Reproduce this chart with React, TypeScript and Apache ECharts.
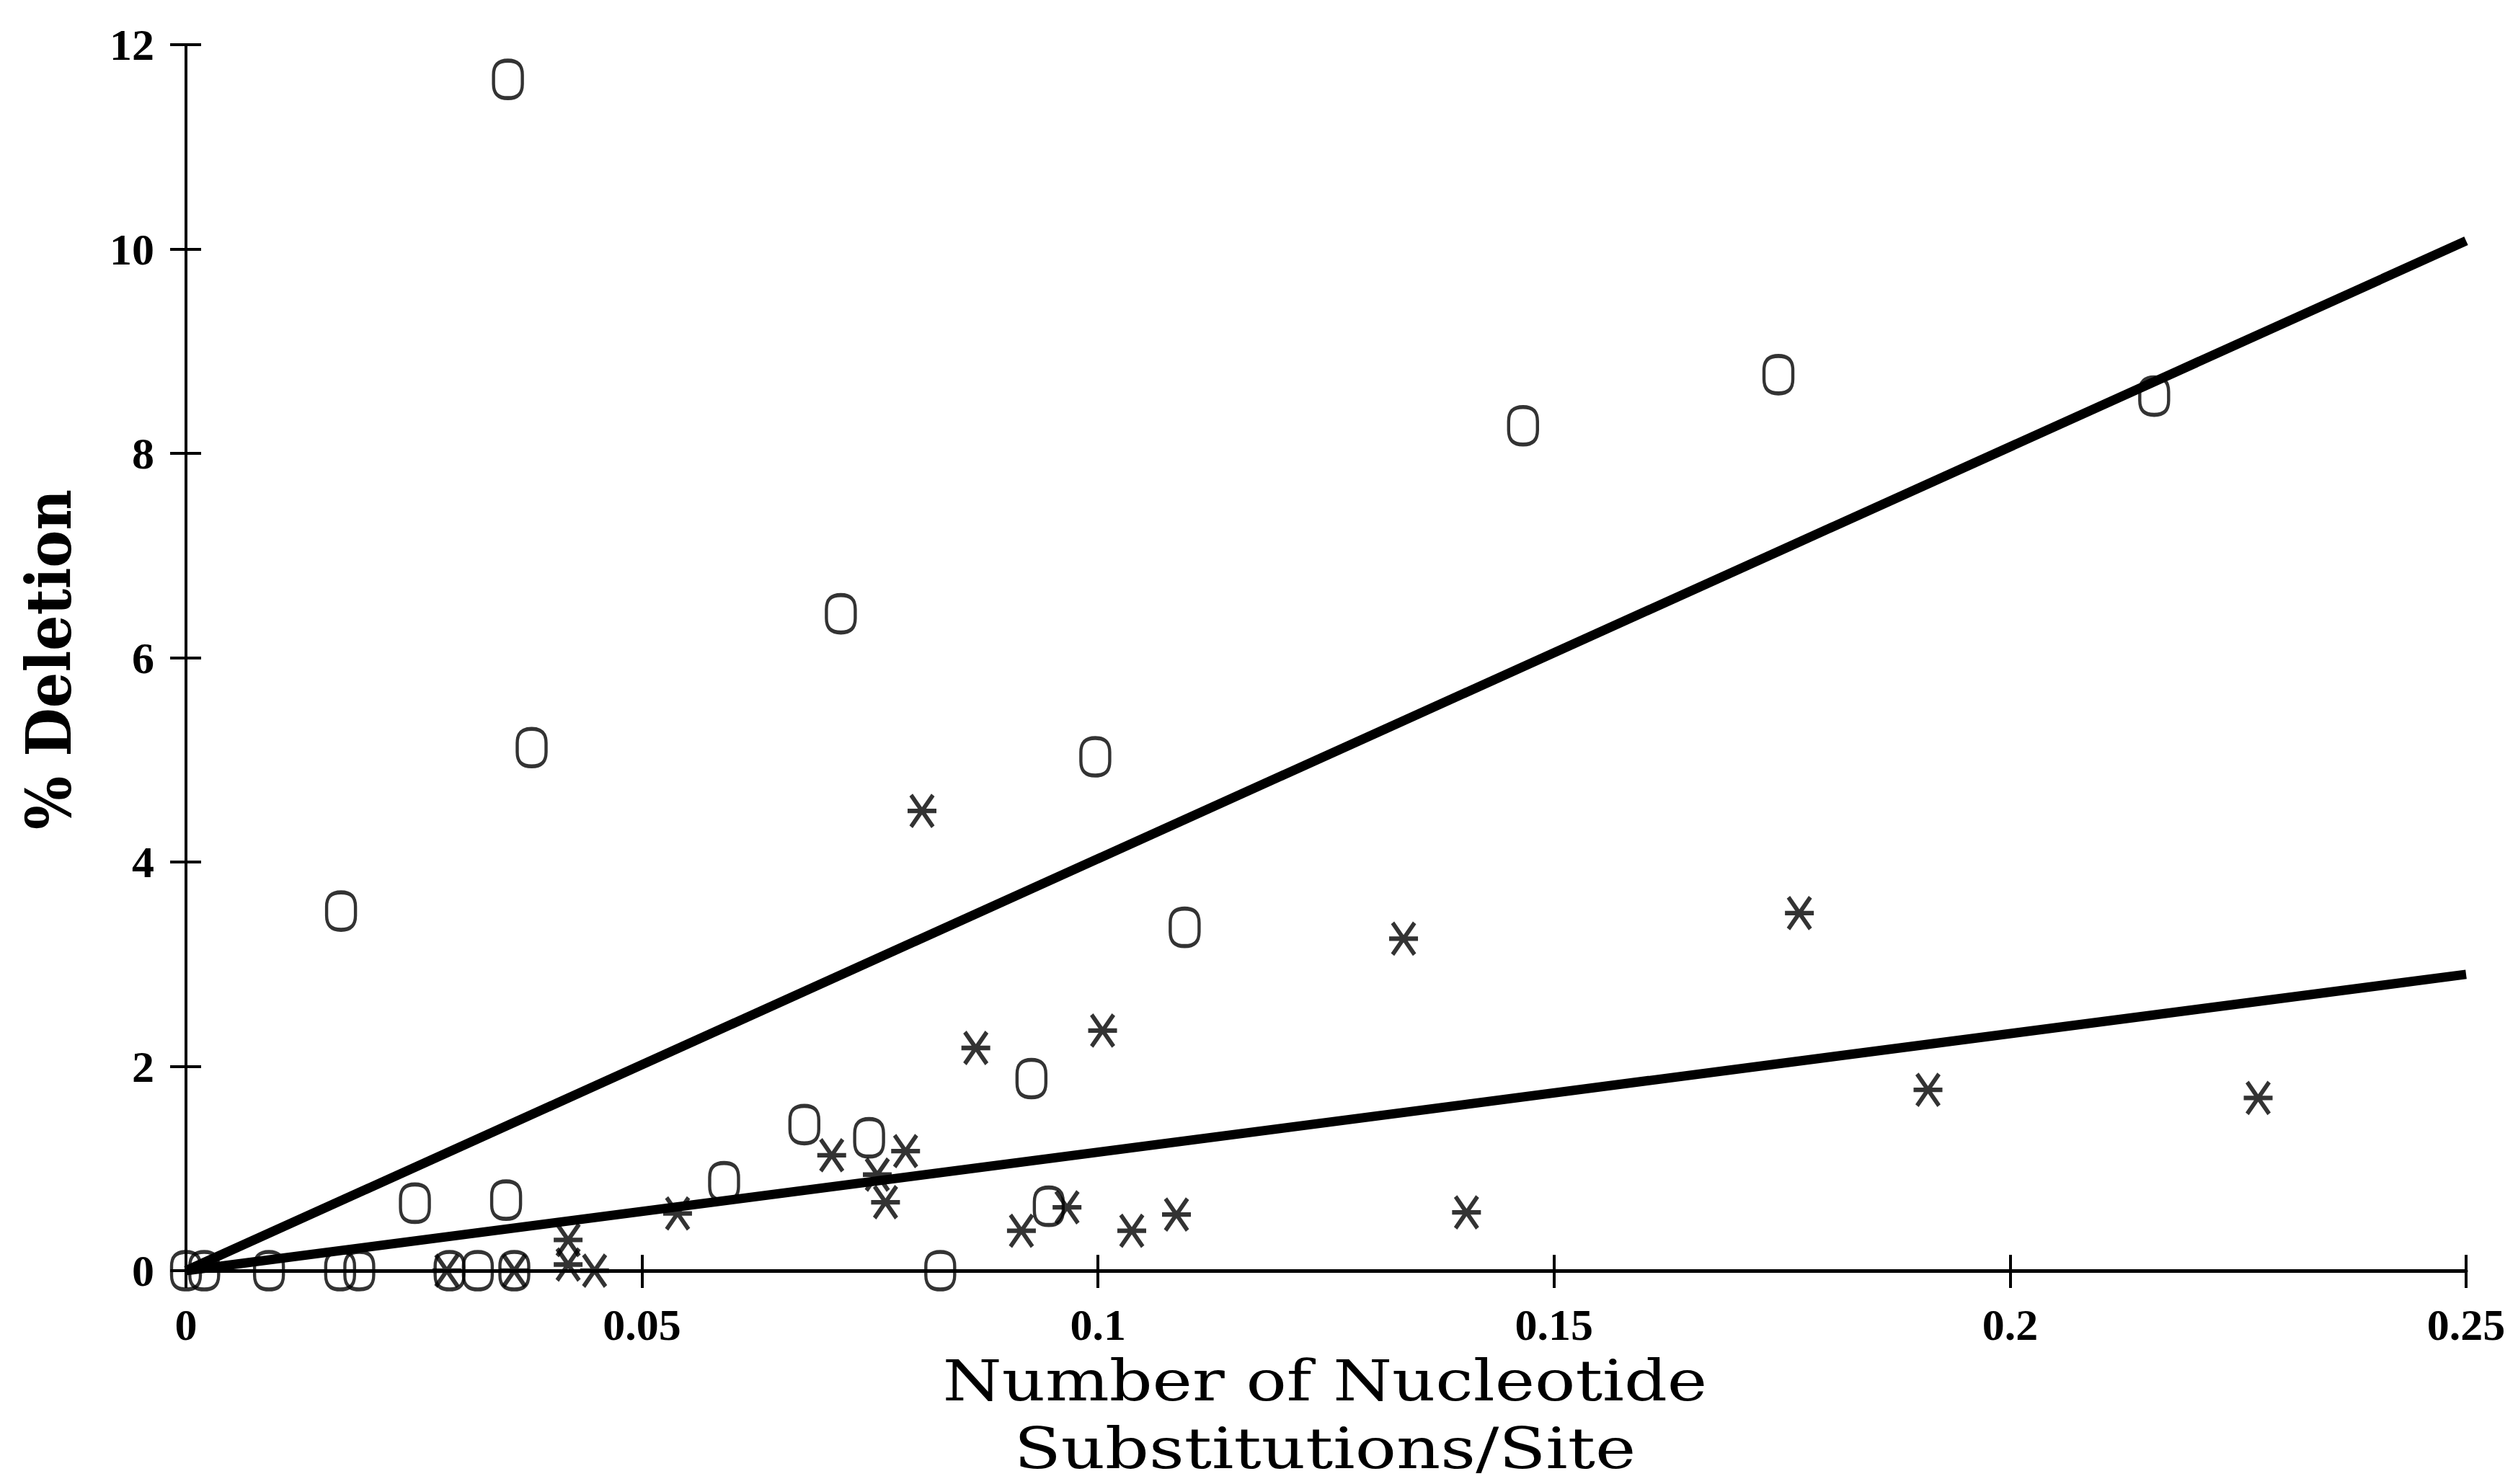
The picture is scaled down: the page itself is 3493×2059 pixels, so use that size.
import React, { useEffect, useRef } from "react";
import * as echarts from "echarts";

// "O" data points (x = substitutions/site, y = % deletion)
const oX = [0, 0.002, 0.0091, 0.0169, 0.019, 0.0289, 0.032, 0.036, 0.0251, 0.0351, 0.059, 0.0678, 0.0749, 0.0827, 0.0946, 0.0927, 0.017, 0.0353, 0.0379, 0.0718, 0.0997, 0.1095, 0.1466, 0.1746, 0.2158];
const oY = [0, 0, 0, 0, 0, 0, 0, 0, 0.66, 0.69, 0.87, 1.43, 1.3, 0, 0.63, 1.88, 3.52, 11.66, 5.12, 6.43, 5.03, 3.36, 8.27, 8.77, 8.56];

// "*" data points
const sX = [0.0286, 0.036, 0.0419, 0.0419, 0.0448, 0.0539, 0.0708, 0.0758, 0.0767, 0.0789, 0.0807, 0.0866, 0.0916, 0.0966, 0.1005, 0.1037, 0.1086, 0.1335, 0.1404, 0.1769, 0.191, 0.2272];
const sY = [0, 0, 0.3, 0.06, 0, 0.56, 1.13, 0.94, 0.67, 1.17, 4.5, 2.18, 0.39, 0.62, 2.35, 0.39, 0.55, 3.25, 0.57, 3.5, 1.77, 1.69];

// regression lines
const fitX = [0, 0.25];
const fitO = [0, 10.08];
const fitStar = [0, 2.9];

const xTicks = { min: 0, max: 0.25, interval: 0.05 };
const yTicks = { min: 0, max: 12, interval: 2 };

const xTitle1 = "Number of Nucleotide";
const xTitle2 = "Substitutions/Site";
const yTitle = "% Deletion";

const O_PATH =
  "path://M50,0 C85,0 100,12 100,38 L100,62 C100,88 85,100 50,100 C15,100 0,88 0,62 L0,38 C0,12 15,0 50,0 Z";
const STAR_PATH = "path://M0,50 L100,50 M12,0 L88,100 M88,0 L12,100";

export default function App() {
  const ref = useRef<HTMLDivElement>(null);
  useEffect(() => {
    if (!ref.current) return;
    const chart = echarts.init(ref.current, null, { renderer: "svg" });
    const labelFont = {
      fontFamily: "Liberation Serif",
      fontWeight: "bold" as const,
      fontSize: 62,
      color: "#000",
    };
    const tickStyle = { color: "#000", width: 4 };
    const xBase = {
      type: "value" as const,
      min: xTicks.min,
      max: xTicks.max,
      interval: xTicks.interval,
      position: "bottom" as const,
      splitLine: { show: false },
    };
    const yBase = {
      type: "value" as const,
      min: yTicks.min,
      max: yTicks.max,
      interval: yTicks.interval,
      position: "left" as const,
      splitLine: { show: false },
    };
    const titleStyle = {
      fontFamily: "DejaVu Serif",
      fontSize: 78,
      fill: "#000",
      align: "center" as const,
      verticalAlign: "middle" as const,
    };
    chart.setOption({
      animation: false,
      backgroundColor: "#fff",
      grid: { left: 258, right: 72, top: 62, bottom: 296 },
      xAxis: [
        {
          ...xBase,
          axisLine: { show: true, onZero: false, lineStyle: { color: "#000", width: 5 } },
          axisTick: { show: true, inside: false, length: 24, lineStyle: tickStyle },
          axisLabel: { ...labelFont, margin: 44 },
        },
        {
          ...xBase,
          axisLine: { show: false },
          axisTick: { show: true, inside: true, length: 22, lineStyle: tickStyle },
          axisLabel: { show: false },
        },
      ],
      yAxis: [
        {
          ...yBase,
          axisLine: { show: true, onZero: false, lineStyle: { color: "#000", width: 4 } },
          axisTick: { show: true, inside: false, length: 22, lineStyle: tickStyle },
          axisLabel: { ...labelFont, margin: 44 },
        },
        {
          ...yBase,
          axisLine: { show: false },
          axisTick: { show: true, inside: true, length: 21, lineStyle: tickStyle },
          axisLabel: { show: false },
        },
      ],
      series: [
        {
          type: "line",
          data: fitX.map((x, i) => [x, fitO[i]]),
          showSymbol: false,
          symbol: "none",
          lineStyle: { color: "#000", width: 13 },
          z: 3,
        },
        {
          type: "line",
          data: fitX.map((x, i) => [x, fitStar[i]]),
          showSymbol: false,
          symbol: "none",
          lineStyle: { color: "#000", width: 13 },
          z: 3,
        },
        {
          type: "scatter",
          name: "O",
          clip: false,
          data: oX.map((x, i) => [x, oY[i]]),
          symbol: O_PATH,
          symbolSize: [40, 52],
          itemStyle: { color: "rgba(0,0,0,0)", borderColor: "#000", borderWidth: 5 },
          z: 4,
        },
        {
          type: "scatter",
          name: "*",
          clip: false,
          data: sX.map((x, i) => [x, sY[i]]),
          symbol: STAR_PATH,
          symbolSize: [40, 44],
          itemStyle: { color: "rgba(0,0,0,0)", borderColor: "#000", borderWidth: 6 },
          z: 4,
        },
      ],
      graphic: [
        { type: "text", x: 1838, y: 1916, scaleX: 1.2, style: { ...titleStyle, text: xTitle1 } },
        { type: "text", x: 1838, y: 2010, scaleX: 1.22, style: { ...titleStyle, text: xTitle2 } },
        {
          type: "text",
          x: 68,
          y: 915,
          rotation: Math.PI / 2,
          scaleY: 1.1,
          style: {
            text: yTitle,
            fontFamily: "DejaVu Serif",
            fontWeight: "bold",
            fontSize: 78,
            fill: "#000",
            align: "center",
            verticalAlign: "middle",
          },
        },
      ],
    });
    return () => chart.dispose();
  }, []);
  return (
    <div
      ref={ref}
      style={{ position: "absolute", left: 0, top: 0, width: 3493, height: 2059, background: "#fff" }}
    />
  );
}
